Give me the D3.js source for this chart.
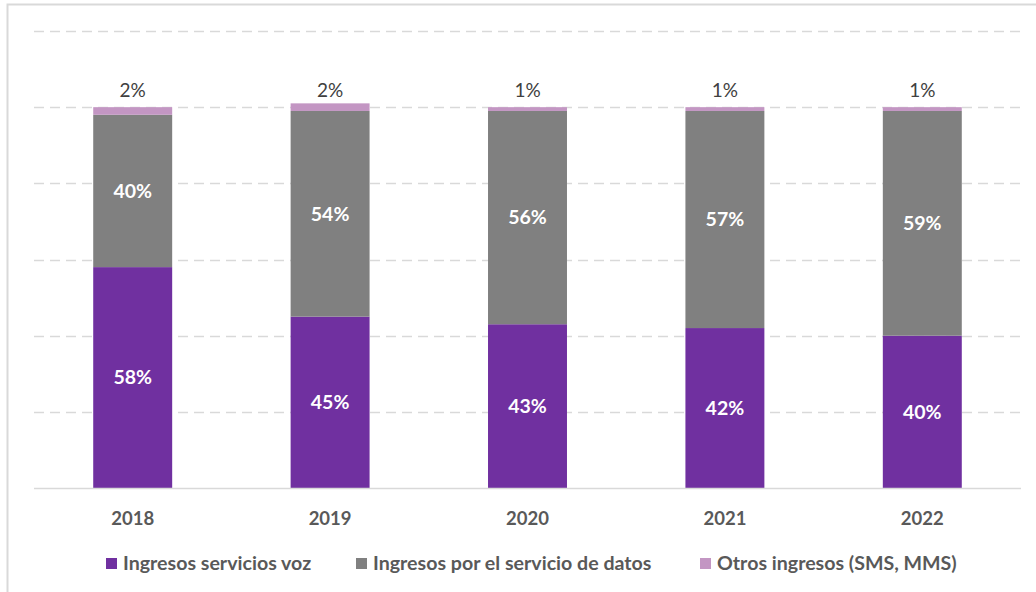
<!DOCTYPE html>
<html>
<head>
<meta charset="utf-8">
<script src="https://cdn.jsdelivr.net/npm/d3@7"></script>
<style>
  html, body { margin: 0; padding: 0; background: #fff; }
  svg { display: block; font-family: Lato, "Open Sans", sans-serif; }
</style>
</head>
<body>
<svg id="chart" width="1036" height="592"></svg>
<script>
// Revenue share by year (percent)
const years = ["2018", "2019", "2020", "2021", "2022"];
const voz = [58, 45, 43, 42, 40];
const datos = [40, 54, 56, 57, 59];
const otros = [2, 2, 1, 1, 1];
const seriesNames = ["Ingresos servicios voz", "Ingresos por el servicio de datos", "Otros ingresos (SMS, MMS)"];
const seriesColors = ["#7030A0", "#808080", "#C396C3"];
const gridTicks = [0, 20, 40, 60, 80, 100, 120];

const svg = d3.select("#chart");

// light frame around the chart
svg.append("rect")
  .attr("x", 7.5).attr("y", 4.5)
  .attr("width", 1040).attr("height", 600)
  .attr("fill", "none").attr("stroke", "#d9d9d9").attr("stroke-width", 2);

const x = d3.scaleBand().domain(years).range([34, 1021]).paddingInner(0.6).paddingOuter(0.3);
const y = d3.scaleLinear().domain([0, 120]).range([488, 31]);

// dashed gridlines
svg.append("g").selectAll("line")
  .data(gridTicks.filter(t => t > 0))
  .join("line")
  .attr("x1", 34).attr("x2", 1021)
  .attr("y1", d => Math.round(y(d)) + 0.5).attr("y2", d => Math.round(y(d)) + 0.5)
  .attr("stroke", "#d9d9d9").attr("stroke-width", 1.5)
  .attr("stroke-dasharray", "10,6");

const rows = years.map((yr, i) => ({ year: yr, voz: voz[i], datos: datos[i], otros: otros[i] }));
const keys = ["voz", "datos", "otros"];
const stacked = d3.stack().keys(keys)(rows);

const groups = svg.append("g").selectAll("g")
  .data(stacked)
  .join("g")
  .attr("fill", (d, i) => seriesColors[i]);

groups.selectAll("rect")
  .data(d => d)
  .join("rect")
  .attr("x", d => x(d.data.year))
  .attr("width", x.bandwidth())
  .attr("y", d => y(d[1]))
  .attr("height", d => y(d[0]) - y(d[1]));

// baseline axis
svg.append("line")
  .attr("x1", 34).attr("x2", 1021)
  .attr("y1", y(0) + 0.5).attr("y2", y(0) + 0.5)
  .attr("stroke", "#d9d9d9").attr("stroke-width", 1.5);

// labels inside voz and datos segments
stacked.slice(0, 2).forEach(s => {
  svg.append("g").selectAll("text")
    .data(s)
    .join("text")
    .attr("x", d => x(d.data.year) + x.bandwidth() / 2)
    .attr("y", d => (y(d[0]) + y(d[1])) / 2)
    .attr("dy", "0.35em")
    .attr("text-anchor", "middle")
    .attr("fill", "#fff")
    .attr("font-weight", "bold")
    .attr("font-size", 19.5)
    .text(d => (d[1] - d[0]) + "%");
});

// labels above the otros segment
svg.append("g").selectAll("text")
  .data(stacked[2])
  .join("text")
  .attr("x", d => x(d.data.year) + x.bandwidth() / 2)
  .attr("y", y(100) - 10)
  .attr("text-anchor", "middle")
  .attr("fill", "#404040")
  .attr("font-size", 19)
  .text(d => (d[1] - d[0]) + "%");

// category axis labels
svg.append("g").selectAll("text")
  .data(years)
  .join("text")
  .attr("x", d => x(d) + x.bandwidth() / 2)
  .attr("y", 525)
  .attr("text-anchor", "middle")
  .attr("fill", "#595959")
  .attr("font-weight", "bold")
  .attr("font-size", 18.5)
  .text(d => d);

// legend
const legendX = [106, 356, 700];
const legend = svg.append("g").selectAll("g")
  .data(seriesNames)
  .join("g")
  .attr("transform", (d, i) => `translate(${legendX[i]},558)`);
legend.append("rect")
  .attr("width", 11).attr("height", 11)
  .attr("fill", (d, i) => seriesColors[i]);
legend.append("text")
  .attr("x", 17).attr("y", 12)
  .attr("fill", "#595959")
  .attr("font-weight", "bold")
  .attr("font-size", 19.6)
  .text(d => d);
</script>
</body>
</html>
